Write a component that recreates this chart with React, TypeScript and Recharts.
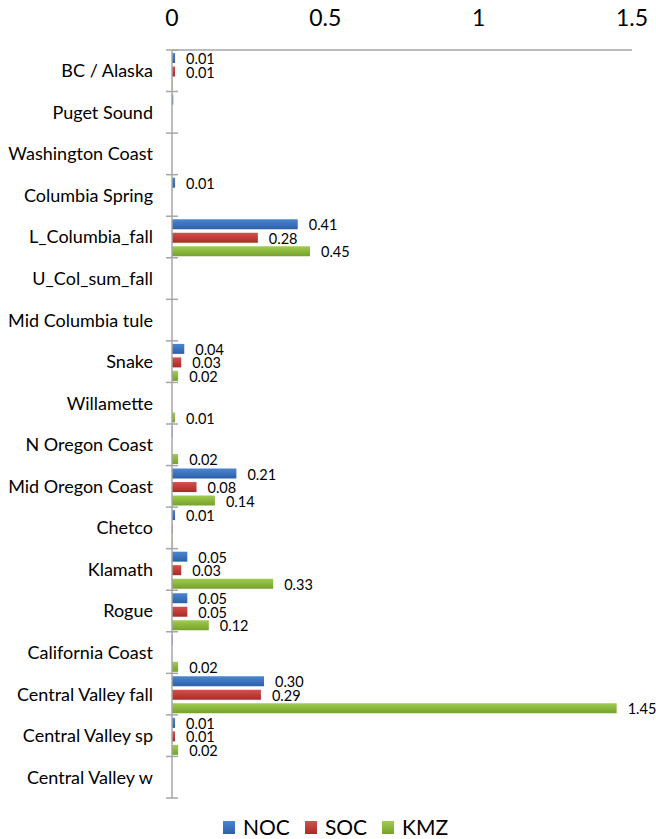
import React from 'react'
import { BarChart, Bar, XAxis, YAxis, Legend, LabelList } from 'recharts'

// stock groups, top to bottom
const stocks = [
  'BC / Alaska',
  'Puget Sound',
  'Washington Coast',
  'Columbia Spring',
  'L_Columbia_fall',
  'U_Col_sum_fall',
  'Mid Columbia tule',
  'Snake',
  'Willamette ',
  'N Oregon Coast',
  'Mid Oregon Coast',
  'Chetco',
  'Klamath ',
  'Rogue',
  'California Coast',
  'Central Valley fall',
  'Central Valley sp',
  'Central Valley w',
]

const noc = [0.01, 0.004, 0, 0.01, 0.41, 0, 0, 0.04, 0, 0.002, 0.21, 0.01, 0.05, 0.05, 0.002, 0.30, 0.01, 0]
const soc = [0.01, 0, 0, 0, 0.28, 0, 0, 0.03, 0, 0, 0.08, 0.002, 0.03, 0.05, 0, 0.29, 0.01, 0]
const kmz = [0.002, 0, 0, 0, 0.45, 0, 0, 0.02, 0.01, 0.02, 0.14, 0.002, 0.33, 0.12, 0.02, 1.45, 0.02, 0]

const xTicks = [0, 0.5, 1, 1.5]

const series = [
  { key: 'NOC', values: noc, top: '#4a86d0', bottom: '#2c60a8' },
  { key: 'SOC', values: soc, top: '#d6504c', bottom: '#a82a27' },
  { key: 'KMZ', values: kmz, top: '#a0cc50', bottom: '#76a22c' },
]

const chartData = stocks.map((name, i) => ({
  name,
  NOC: noc[i],
  SOC: soc[i],
  KMZ: kmz[i],
}))

const FONT = 'Lato, "Open Sans", sans-serif'
// body margin is removed so the chart covers the whole page
const W = 656
const H = 839
const X_HEIGHT = 42
const LEGEND_H = 24
const MARGIN = { top: 8, right: 24, left: 8, bottom: 17 }
const Y_WIDTH = 164
const BAND = (H - MARGIN.top - X_HEIGHT - LEGEND_H - MARGIN.bottom) / stocks.length

const CategoryTick = (props: any) => {
  const { x, y, payload, index } = props
  const axisX = x + 19
  return (
    <g>
      <text x={x} y={y} dy="0.36em" textAnchor="end" fontSize={18} fontFamily={FONT} fill="#000">
        {payload.value}
      </text>
      <line x1={axisX - 6} x2={axisX + 6} y1={y - BAND / 2} y2={y - BAND / 2} stroke="#a6a6a6" strokeWidth={1.5} />
      {index === stocks.length - 1 && (
        <line x1={axisX - 6} x2={axisX + 6} y1={y + BAND / 2} y2={y + BAND / 2} stroke="#a6a6a6" strokeWidth={1.5} />
      )}
    </g>
  )
}

const ValueLabel = (props: any) => {
  const { x, y, width, height, value } = props
  if (value < 0.005) return null
  return (
    <text
      x={x + width + 11}
      y={y + height / 2}
      dy="0.42em"
      fontSize={14.5}
      fontFamily={FONT}
      fill="#000"
    >
      {value.toFixed(2)}
    </text>
  )
}

const LegendContent = () => (
  <div style={{ display: 'flex', alignItems: 'center', marginLeft: 223, fontFamily: FONT, fontSize: 21, color: '#000', lineHeight: '24px' }}>
    {series.map(s => (
      <div key={s.key} style={{ display: 'flex', alignItems: 'center', marginRight: 15 }}>
        <span
          style={{
            width: 12,
            height: 13,
            marginRight: 8,
            background: `linear-gradient(${s.top}, ${s.bottom})`,
            display: 'inline-block',
          }}
        />
        <span>{s.key}</span>
      </div>
    ))}
  </div>
)

export default function App() {
  return (
    <div style={{ width: W, height: H }}>
      <style>{'html, body { margin: 0; padding: 0; overflow: hidden; }'}</style>
      <BarChart
        width={W}
        height={H}
        data={chartData}
        layout="vertical"
        margin={MARGIN}
        barCategoryGap={3}
        barGap={3.5}
      >
        <defs>
          {series.map(s => (
            <linearGradient key={s.key} id={`grad-${s.key}`} x1="0" y1="0" x2="0" y2="1">
              <stop offset="0%" stopColor={s.top} />
              <stop offset="100%" stopColor={s.bottom} />
            </linearGradient>
          ))}
        </defs>
        <XAxis
          type="number"
          orientation="top"
          domain={[0, 1.5]}
          ticks={xTicks}
          tickLine={false}
          tickSize={0}
          tickMargin={24}
          axisLine={{ stroke: '#a6a6a6', strokeWidth: 1.5 }}
          tick={{ fontSize: 23, fontFamily: FONT, fill: '#000' }}
          height={X_HEIGHT}
        />
        <YAxis
          type="category"
          dataKey="name"
          width={Y_WIDTH}
          tickLine={false}
          tickSize={0}
          tickMargin={19}
          interval={0}
          axisLine={{ stroke: '#a6a6a6', strokeWidth: 1.5 }}
          tick={<CategoryTick />}
        />
        <Legend verticalAlign="bottom" height={LEGEND_H} wrapperStyle={{ bottom: 0, left: 0 }} content={<LegendContent />} />
        {series.map(s => (
          <Bar key={s.key} dataKey={s.key} fill={`url(#grad-${s.key})`} isAnimationActive={false}>
            <LabelList dataKey={s.key} content={<ValueLabel />} />
          </Bar>
        ))}
      </BarChart>
    </div>
  )
}
